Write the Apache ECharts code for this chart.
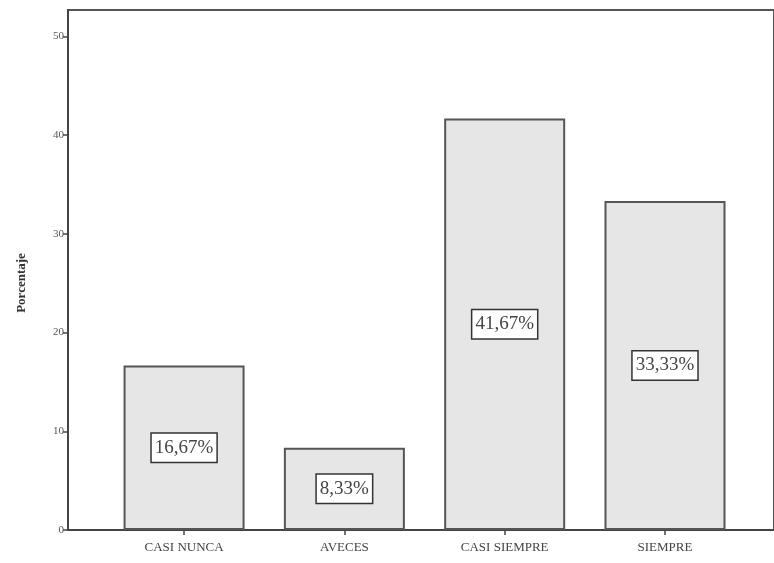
<!DOCTYPE html>
<html>
<head>
<meta charset="utf-8">
<script src="https://cdn.jsdelivr.net/npm/echarts@6/dist/echarts.min.js"></script>
<style>html,body{margin:0;padding:0;background:#fff}#c{width:774px;height:563px}</style>
</head>
<body>
<div id="c"></div>
<script>
const categories = ['CASI NUNCA', 'AVECES', 'CASI SIEMPRE', 'SIEMPRE'];
const percentages = [16.67, 8.33, 41.67, 33.33];
const yTicks = [0, 10, 20, 30, 40, 50];
const yAxisTitle = 'Porcentaje';

const positions = categories.map((c, i) => i + 1);
const seriesData = percentages.map((v, i) => [positions[i], v]);
const serif = '"Liberation Serif", "DejaVu Serif", serif';

const chart = echarts.init(document.getElementById('c'));
chart.setOption({
  animation: false,
  grid: {
    left: 68, top: 10, right: 0, bottom: 33,
    show: true, borderColor: '#555', borderWidth: 2, backgroundColor: '#fff'
  },
  xAxis: {
    type: 'value',
    min: 0.276, max: 4.68,
    splitLine: { show: false },
    axisLine: { show: true, onZero: false, lineStyle: { color: '#444', width: 2 } },
    axisTick: { show: true, customValues: positions, length: 5, lineStyle: { color: '#444', width: 1.5 } },
    axisLabel: {
      customValues: positions,
      formatter: v => categories[Math.round(v) - 1] || '',
      fontFamily: serif, fontSize: 13, color: '#444', margin: 11
    }
  },
  yAxis: {
    type: 'value',
    min: 0, max: 52.66,
    name: yAxisTitle,
    nameLocation: 'middle',
    nameGap: 40,
    nameTextStyle: { fontFamily: serif, fontSize: 13, fontWeight: 'bold', color: '#333', padding: [0, 0, 0, -26] },
    splitLine: { show: false },
    axisLine: { show: true, lineStyle: { color: '#444', width: 2 } },
    axisTick: { show: true, customValues: yTicks, length: 5, lineStyle: { color: '#444', width: 1.5 } },
    axisLabel: { customValues: yTicks, fontFamily: serif, fontSize: 11, color: '#555', margin: 4 }
  },
  series: [{
    type: 'bar',
    data: seriesData,
    barWidth: 121,
    itemStyle: { color: '#e6e6e6', borderColor: '#555', borderWidth: 2 },
    label: {
      show: true,
      position: 'inside',
      formatter: p => p.value[1].toFixed(2).replace('.', ',') + '%',
      fontFamily: serif, fontSize: 19, color: '#444',
      backgroundColor: '#fff', borderColor: '#333', borderWidth: 1.5,
      padding: [6, 3, 3, 3]
    }
  }]
});
</script>
</body>
</html>
